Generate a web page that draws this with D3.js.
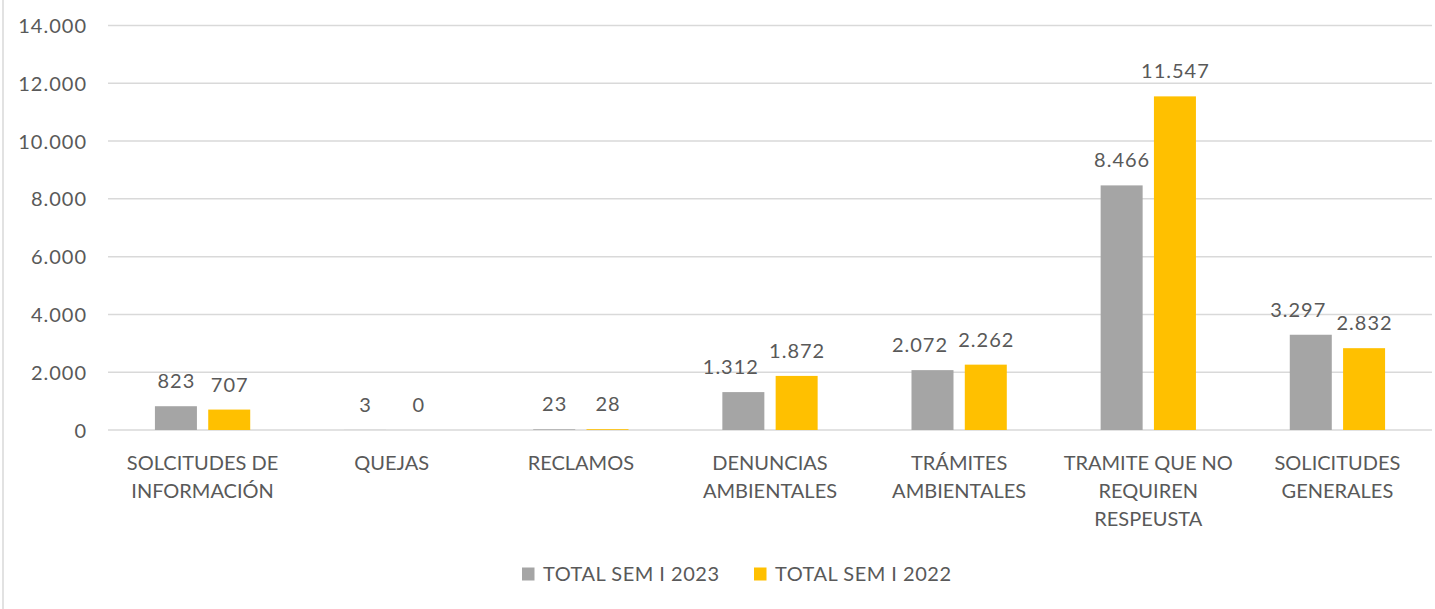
<!DOCTYPE html>
<html><head><meta charset="utf-8">
<script src="https://cdn.jsdelivr.net/npm/d3@7"></script>
<style>body{margin:0;background:#fff}svg{display:block}text{font-family:Lato,"Open Sans",sans-serif;fill:#595959}</style>
</head><body>
<svg id="c" width="1435" height="609"></svg>
<script>
const categories = [["SOLCITUDES DE","INFORMACIÓN"],["QUEJAS"],["RECLAMOS"],["DENUNCIAS","AMBIENTALES"],["TRÁMITES","AMBIENTALES"],["TRAMITE QUE NO","REQUIREN","RESPEUSTA"],["SOLICITUDES","GENERALES"]];
const seriesNames = ["TOTAL SEM I 2023","TOTAL SEM I 2022"];
const values2023 = [823,3,23,1312,2072,8466,3297];
const values2022 = [707,0,28,1872,2262,11547,2832];
const yTicks = [0,2000,4000,6000,8000,10000,12000,14000];
const colors = ["#A5A5A5","#FFC000"];

(function(){
const svg = d3.select("#c");
const fmt = v => d3.format(",")(v).replace(/,/g,".");
const W = 1435, H = 609;
const pLeft = 108, pRight = 1432, pTop = 25.5, pBottom = 430;
const FS = 20;

svg.append("line").attr("x1",3).attr("x2",3).attr("y1",0).attr("y2",H).attr("stroke","#D9D9D9").attr("stroke-width",1.5);

const keys = categories.map((c,i)=>i);
const x0 = d3.scaleBand().domain(keys).range([pLeft,pRight]).padding(0);
const x1 = d3.scaleBand().domain([0,1]).range([-47.65,47.65]).paddingInner(0.212).paddingOuter(0);
const y = d3.scaleLinear().domain([0,14000]).range([pBottom,pTop]);

const yAxis = d3.axisLeft(y).tickValues(yTicks).tickFormat(fmt).tickSize(0).tickPadding(0);
const ga = svg.append("g").attr("transform",`translate(87,0)`).call(yAxis);
ga.select(".domain").remove();
ga.selectAll("text").attr("font-size",FS).attr("dy","0.35em").attr("letter-spacing","1px")
  .style("fill","#595959").style("font-family","Lato");
svg.append("g").selectAll("line").data(yTicks).join("line")
  .attr("x1",pLeft).attr("x2",pRight).attr("y1",d=>y(d)).attr("y2",d=>y(d))
  .attr("stroke","#D9D9D9").attr("stroke-width",1.5);

const data = [values2023, values2022];
// label dodge: when both labels are wide and at similar heights, move the first series label left
const dodge = (i,s) => {
  if (s !== 0) return 0;
  const a = values2023[i], b = values2022[i];
  const close = Math.abs(y(a) - y(b)) < 25;
  return (close && a >= 1000 && b >= 1000) ? -13 : 0;
};
const g = svg.append("g");
data.forEach((vals,s)=>{
  g.selectAll(null).data(vals).join("rect")
    .attr("x",(d,i)=>x0(i)+x0.bandwidth()/2+x1(s))
    .attr("width",x1.bandwidth())
    .attr("y",d=>y(d)).attr("height",d=>y(0)-y(d))
    .attr("fill",colors[s]);
  g.selectAll(null).data(vals).join("text")
    .attr("x",(d,i)=>x0(i)+x0.bandwidth()/2+x1(s)+x1.bandwidth()/2+0.5+dodge(i,s))
    .attr("y",d=>y(d)-18).attr("text-anchor","middle").attr("font-size",FS).attr("letter-spacing","1px")
    .text(fmt);
});

const xAxis = d3.axisBottom(x0).tickSize(0).tickFormat("");
const gx = svg.append("g").attr("transform",`translate(0,${pBottom})`).call(xAxis);
gx.select(".domain").remove();
categories.forEach((lines,i)=>{
  const t = svg.append("text").attr("text-anchor","middle").attr("font-size",FS);
  lines.forEach((ln,j)=>t.append("tspan").attr("x",x0(i)+x0.bandwidth()/2).attr("y",470+j*28).text(ln));
});

const legX = [522,754];
seriesNames.forEach((n,s)=>{
  svg.append("rect").attr("x",legX[s]).attr("y",567.5).attr("width",12.5).attr("height",13).attr("fill",colors[s]);
  svg.append("text").attr("x",legX[s]+21).attr("y",581).attr("font-size",FS).attr("letter-spacing","0.5px").text(n);
});
})();
</script>
</body></html>
